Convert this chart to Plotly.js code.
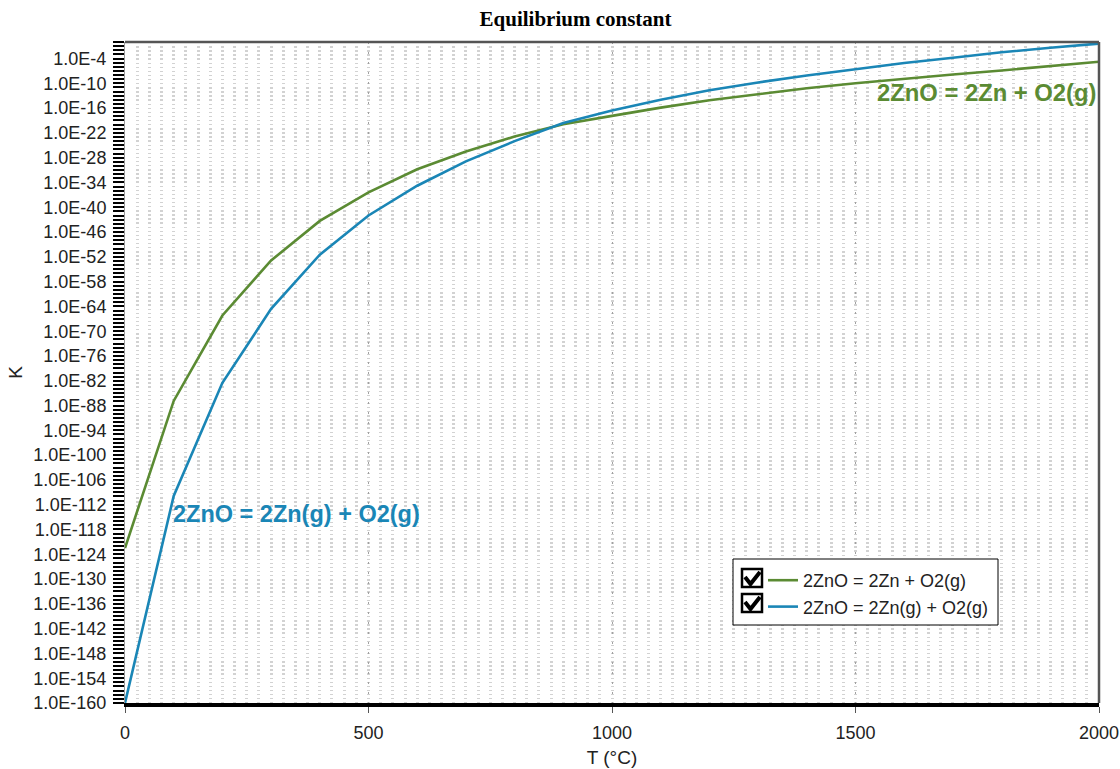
<!DOCTYPE html>
<html><head><meta charset="utf-8">
<script src="https://cdn.plot.ly/plotly-3.0.1.min.js"></script>
<style>html,body{margin:0;padding:0;background:#fff}#chart{width:1120px;height:769px}</style>
</head><body><div id="chart"></div>
<script>
// ---- data ----
const temperatures = [0,100,200,300,400,500,600,700,800,900,1000,1100,1200,1300,1400,1500,1600,1700,1800,1900,2000];
const kZnCondensed = [3.2e-123,1.3e-87,6.3e-67,1.3e-53,5.0e-44,4.0e-37,1.6e-31,3.2e-27,1.3e-23,1.3e-20,1.3e-18,1.3e-16,7.9e-15,2.5e-13,6.3e-12,1.0e-10,1.3e-9,1.3e-8,1.3e-7,1.6e-6,1.6e-5];
const kZnGas = [1.0e-160,1.3e-110,3.2e-83,2.5e-65,3.2e-52,1.0e-42,1.6e-35,1.3e-29,1.0e-24,2.5e-20,2.5e-17,1.0e-14,2.0e-12,1.6e-10,7.9e-9,2.5e-7,7.9e-6,1.6e-4,3.2e-3,4.0e-2,4.0e-1];
const seriesNames = ["2ZnO = 2Zn + O2(g)", "2ZnO = 2Zn(g) + O2(g)"];
const seriesColors = ["#5b8b33", "#1a86b6"];
const yTickLabels = ["1.0E-4","1.0E-10","1.0E-16","1.0E-22","1.0E-28","1.0E-34","1.0E-40","1.0E-46","1.0E-52","1.0E-58","1.0E-64","1.0E-70","1.0E-76","1.0E-82","1.0E-88","1.0E-94","1.0E-100","1.0E-106","1.0E-112","1.0E-118","1.0E-124","1.0E-130","1.0E-136","1.0E-142","1.0E-148","1.0E-154","1.0E-160"];
const xTickValues = [0,500,1000,1500,2000];
const xTickLabels = ["0","500","1000","1500","2000"];

// ---- layout helpers (pixel -> paper) ----
const W = 1120, H = 769, ML = 125, MR = 21, MT = 42, MB = 66;
const PW = W - ML - MR, PH = H - MT - MB;
const px = x => (x - ML) / PW;
const py = y => (H - MB - y) / PH;

const decadeTicks = [];
for (let e = -160; e <= 0; e++) decadeTicks.push(Math.pow(10, e));

const font = "Liberation Sans, Arial, sans-serif";

const traces = [
  {x: temperatures, y: kZnCondensed, name: seriesNames[0], type: "scatter", mode: "lines",
   line: {color: seriesColors[0], width: 2.6}},
  {x: temperatures, y: kZnGas, name: seriesNames[1], type: "scatter", mode: "lines",
   line: {color: seriesColors[1], width: 2.6}}
];

function checkbox(y0) {
  return [
    {type: "rect", xref: "paper", yref: "paper", x0: px(742), x1: px(762), y0: py(y0), y1: py(y0 + 18),
     line: {color: "#000", width: 2.5}, fillcolor: "#fff", layer: "above"},
    {type: "path", xref: "paper", yref: "paper", layer: "above",
     path: `M ${px(745)} ${py(y0 + 8)} L ${px(750.5)} ${py(y0 + 15)} L ${px(760)} ${py(y0 + 3)}`,
     line: {color: "#000", width: 4}}
  ];
}

const layout = {
  width: W, height: H,
  margin: {l: ML, r: MR, t: MT, b: MB},
  paper_bgcolor: "#fff", plot_bgcolor: "#fff",
  font: {family: font, size: 18, color: "#222"},
  title: {text: "Equilibrium constant", x: 575.5 / W, xanchor: "center", y: 1 - 11 / H, yanchor: "top",
          font: {family: "Liberation Serif, Times New Roman, serif", size: 21, color: "#000", weight: "bold"}},
  showlegend: true,
  legend: {x: px(763), xanchor: "left", y: py(562), yanchor: "top", bgcolor: "rgba(0,0,0,0)",
           borderwidth: 0, font: {family: font, size: 18, color: "#222"}, tracegroupgap: 0},
  xaxis: {
    range: [0, 2000], type: "linear",
    tickvals: xTickValues, ticktext: xTickLabels,
    ticks: "outside", ticklen: 6, tickcolor: "#555", tickwidth: 1,
    ticklabelstandoff: 4,
    showline: true, linecolor: "#000", linewidth: 4,
    showgrid: true, gridcolor: "#a0a0a0", gridwidth: 1, griddash: "2px,8px",
    zeroline: false,
    minor: {dtick: 25, tick0: 0, showgrid: true, gridcolor: "#d2d2d2", gridwidth: 3, griddash: "1.4px,2.7px", ticks: ""},
    tickfont: {family: font, size: 18, color: "#222"},
    title: {text: "T (°C)", font: {family: font, size: 19, color: "#222"}, standoff: 10}
  },
  yaxis: {
    type: "log", range: [-160, 0],
    tickvals: yTickLabels.map(Number), ticktext: yTickLabels,
    ticks: "outside", ticklen: 11, tickwidth: 2, tickcolor: "#000",
    minor: {tickvals: decadeTicks, ticks: "outside", ticklen: 11, tickwidth: 2, tickcolor: "#000", showgrid: false},
    showgrid: false, zeroline: false,
    showline: true, linecolor: "#999", linewidth: 1,
    ticklabelstandoff: 3,
    tickfont: {family: font, size: 18, color: "#222"},
    title: {text: "K", font: {family: font, size: 19, color: "#222"}, standoff: 5}
  },
  shapes: [
    {type: "line", xref: "paper", yref: "paper", x0: 0, x1: 1, y0: 1, y1: 1, line: {color: "#555", width: 2.5}, layer: "above"},
    {type: "line", xref: "paper", yref: "paper", x0: 1, x1: 1, y0: 0, y1: 1, line: {color: "#555", width: 2.5}, layer: "above"},
    {type: "rect", xref: "paper", yref: "paper", x0: px(733), x1: px(998), y0: py(559), y1: py(625),
     line: {color: "#000", width: 1}, fillcolor: "#fff", layer: "above"},
    ...checkbox(569), ...checkbox(594)
  ],
  annotations: [
    {text: "<b>" + seriesNames[0] + "</b>", x: 1541, xref: "x", y: py(92.5), yref: "paper",
     xanchor: "left", yanchor: "middle", showarrow: false,
     font: {family: font, size: 23.8, color: seriesColors[0]}},
    {text: "<b>" + seriesNames[1] + "</b>", x: 95, xref: "x", y: py(514), yref: "paper",
     xanchor: "left", yanchor: "middle", showarrow: false,
     font: {family: font, size: 23.5, color: seriesColors[1]}}
  ]
};

Plotly.newPlot("chart", traces, layout, {displayModeBar: false, staticPlot: true});
</script>
</body></html>
